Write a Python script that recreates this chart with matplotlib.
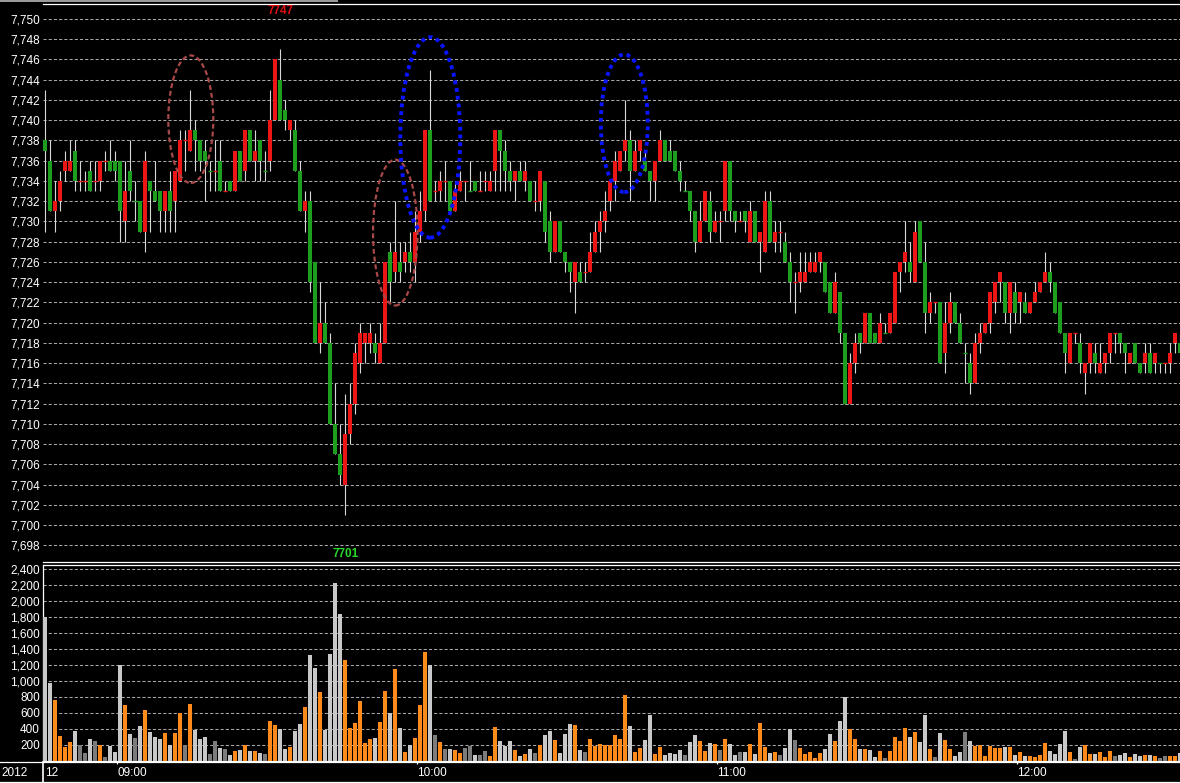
import numpy as np
import matplotlib.pyplot as plt
from matplotlib.patches import Ellipse, Rectangle
from matplotlib.lines import Line2D
from matplotlib.ticker import FuncFormatter
import matplotlib.transforms as mtransforms

plt.rcParams['font.family'] = ['Liberation Sans', 'DejaVu Sans']

# ==================================
# DATA : 1-MINUTE BARS FROM 08:45
# ==================================

opens = [
    7738, 7736, 7731, 7732, 7735, 7735, 7737, 7734, 7734, 7735,
    7734, 7734, 7736, 7736, 7736, 7736, 7730, 7735, 7732, 7732,
    7729, 7734, 7733, 7733, 7731, 7733, 7732, 7734, 7738, 7737,
    7739, 7738, 7737, 7735, 7735, 7736, 7733, 7734, 7733, 7737,
    7735, 7739, 7736, 7738, 7735, 7736, 7740, 7744, 7741, 7739,
    7739, 7735, 7731, 7732, 7726, 7718, 7720, 7718, 7710, 7707,
    7704, 7709, 7712, 7716, 7718, 7718, 7718, 7716, 7718, 7727,
    7725, 7726, 7726, 7727, 7726, 7729, 7731, 7739, 7733, 7733,
    7734, 7734, 7731, 7733, 7734, 7733, 7734, 7733, 7734, 7733,
    7735, 7739, 7737, 7735, 7734, 7735, 7734, 7734, 7732, 7732,
    7734, 7730, 7727, 7730, 7727, 7726, 7724, 7725, 7725, 7725,
    7727, 7729, 7730, 7732, 7734, 7735, 7737, 7738, 7735, 7737,
    7736, 7735, 7734, 7736, 7738, 7737, 7737, 7735, 7733, 7733,
    7731, 7728, 7730, 7732, 7729, 7730, 7731, 7736, 7731, 7730,
    7731, 7728, 7731, 7728, 7727, 7732, 7728, 7729, 7728, 7726,
    7724, 7724, 7724, 7725, 7725, 7726, 7726, 7724, 7721, 7723,
    7719, 7712, 7716, 7719, 7718, 7721, 7719, 7718, 7719, 7719,
    7720, 7725, 7726, 7726, 7724, 7730, 7726, 7721, 7722, 7722,
    7717, 7720, 7722, 7720, 7717, 7716, 7714, 7718, 7719, 7720,
    7722, 7724, 7724, 7721, 7723, 7722, 7722, 7721, 7722, 7723,
    7724, 7725, 7724, 7722, 7719, 7716, 7719, 7718, 7715, 7716,
    7717, 7715, 7716, 7717, 7719, 7719, 7718, 7716, 7718, 7716,
    7716, 7717, 7716, 7716, 7716, 7716, 7718, 7718,
]

highs = [
    7743, 7738, 7734, 7735, 7737, 7738, 7738, 7736, 7735, 7736,
    7736, 7736, 7737, 7738, 7737, 7736, 7736, 7738, 7734, 7732,
    7737, 7734, 7736, 7733, 7733, 7735, 7735, 7739, 7739, 7743,
    7740, 7738, 7738, 7736, 7738, 7738, 7734, 7734, 7737, 7737,
    7739, 7739, 7739, 7738, 7737, 7743, 7746, 7747, 7742, 7740,
    7740, 7736, 7733, 7733, 7726, 7724, 7722, 7719, 7714, 7710,
    7713, 7714, 7718, 7720, 7719, 7720, 7719, 7720, 7726, 7728,
    7732, 7728, 7728, 7729, 7731, 7733, 7739, 7745, 7734, 7735,
    7736, 7734, 7734, 7735, 7734, 7736, 7734, 7735, 7735, 7735,
    7739, 7739, 7738, 7736, 7735, 7736, 7736, 7734, 7734, 7735,
    7734, 7731, 7730, 7730, 7727, 7726, 7726, 7726, 7726, 7729,
    7730, 7731, 7733, 7734, 7737, 7737, 7742, 7739, 7738, 7738,
    7737, 7735, 7736, 7739, 7738, 7738, 7737, 7736, 7734, 7733,
    7731, 7732, 7733, 7733, 7731, 7731, 7736, 7736, 7731, 7731,
    7731, 7732, 7731, 7729, 7733, 7733, 7730, 7730, 7729, 7727,
    7725, 7727, 7727, 7727, 7727, 7727, 7726, 7724, 7725, 7723,
    7719, 7717, 7719, 7719, 7721, 7721, 7719, 7721, 7720, 7721,
    7725, 7726, 7730, 7728, 7730, 7730, 7728, 7723, 7722, 7722,
    7722, 7723, 7722, 7721, 7718, 7717, 7719, 7720, 7720, 7723,
    7724, 7725, 7724, 7724, 7724, 7723, 7723, 7722, 7724, 7724,
    7727, 7726, 7724, 7722, 7719, 7719, 7719, 7719, 7716, 7718,
    7718, 7718, 7717, 7719, 7719, 7719, 7718, 7717, 7718, 7716,
    7718, 7718, 7717, 7716, 7716, 7718, 7719, 7719,
]

lows = [
    7729, 7731, 7729, 7731, 7734, 7735, 7733, 7733, 7733, 7733,
    7733, 7733, 7735, 7735, 7734, 7728, 7728, 7732, 7730, 7729,
    7727, 7729, 7732, 7729, 7729, 7729, 7729, 7734, 7735, 7737,
    7735, 7735, 7732, 7733, 7733, 7733, 7733, 7733, 7733, 7734,
    7734, 7736, 7734, 7734, 7734, 7735, 7740, 7740, 7739, 7738,
    7735, 7731, 7729, 7723, 7718, 7717, 7718, 7710, 7707, 7704,
    7701, 7708, 7711, 7715, 7716, 7717, 7716, 7716, 7718, 7722,
    7724, 7724, 7725, 7725, 7724, 7728, 7730, 7732, 7732, 7732,
    7732, 7731, 7731, 7733, 7732, 7733, 7733, 7733, 7733, 7733,
    7733, 7733, 7733, 7733, 7732, 7734, 7733, 7732, 7731, 7731,
    7728, 7726, 7727, 7727, 7725, 7723, 7721, 7724, 7724, 7725,
    7727, 7727, 7729, 7731, 7732, 7735, 7736, 7732, 7735, 7736,
    7735, 7732, 7732, 7736, 7736, 7736, 7735, 7733, 7733, 7730,
    7727, 7728, 7730, 7728, 7729, 7728, 7730, 7730, 7729, 7730,
    7729, 7728, 7728, 7725, 7727, 7728, 7727, 7727, 7726, 7722,
    7721, 7723, 7724, 7725, 7725, 7725, 7723, 7721, 7721, 7718,
    7712, 7712, 7715, 7717, 7718, 7718, 7718, 7718, 7719, 7719,
    7720, 7723, 7725, 7724, 7724, 7726, 7719, 7720, 7721, 7716,
    7715, 7719, 7720, 7718, 7714, 7713, 7714, 7717, 7719, 7719,
    7721, 7722, 7720, 7719, 7720, 7720, 7721, 7721, 7722, 7723,
    7724, 7723, 7721, 7719, 7715, 7716, 7718, 7715, 7713, 7715,
    7715, 7715, 7715, 7716, 7717, 7717, 7715, 7716, 7716, 7715,
    7715, 7715, 7715, 7715, 7715, 7715, 7717, 7717,
]

closes = [
    7737, 7731, 7732, 7734, 7736, 7736, 7734, 7734, 7734, 7733,
    7734, 7736, 7736, 7735, 7735, 7731, 7733, 7733, 7732, 7729,
    7736, 7733, 7732, 7731, 7733, 7731, 7735, 7738, 7738, 7739,
    7738, 7736, 7736, 7735, 7735, 7733, 7733, 7733, 7737, 7734,
    7739, 7736, 7737, 7736, 7735, 7740, 7746, 7740, 7740, 7740,
    7735, 7731, 7732, 7724, 7718, 7720, 7718, 7710, 7707, 7705,
    7709, 7712, 7717, 7719, 7719, 7719, 7717, 7718, 7726, 7724,
    7727, 7725, 7727, 7726, 7729, 7731, 7739, 7732, 7733, 7734,
    7734, 7731, 7733, 7734, 7734, 7733, 7733, 7733, 7734, 7734,
    7739, 7737, 7735, 7734, 7735, 7734, 7735, 7732, 7732, 7735,
    7729, 7727, 7730, 7727, 7726, 7725, 7726, 7724, 7725, 7727,
    7729, 7730, 7731, 7734, 7736, 7737, 7738, 7735, 7737, 7738,
    7735, 7734, 7736, 7738, 7736, 7736, 7735, 7734, 7733, 7731,
    7728, 7730, 7733, 7729, 7730, 7730, 7736, 7731, 7730, 7730,
    7730, 7731, 7728, 7729, 7732, 7728, 7729, 7729, 7726, 7724,
    7724, 7725, 7725, 7726, 7726, 7727, 7723, 7721, 7724, 7719,
    7712, 7716, 7718, 7718, 7721, 7718, 7718, 7720, 7719, 7721,
    7725, 7726, 7727, 7725, 7729, 7726, 7721, 7722, 7722, 7716,
    7720, 7722, 7720, 7718, 7717, 7714, 7718, 7719, 7720, 7723,
    7724, 7725, 7721, 7724, 7721, 7723, 7721, 7722, 7723, 7724,
    7725, 7724, 7721, 7719, 7717, 7719, 7719, 7716, 7716, 7718,
    7716, 7716, 7717, 7719, 7719, 7718, 7717, 7717, 7716, 7715,
    7717, 7715, 7717, 7716, 7716, 7717, 7719, 7717,
]

volumes = [
    1800, 975, 765, 315, 178, 240, 378, 195, 102, 277,
    252, 202, 52, 190, 115, 1200, 702, 340, 290, 440,
    640, 365, 302, 277, 352, 202, 352, 602, 202, 715,
    392, 278, 302, 90, 252, 165, 152, 77, 127, 140,
    202, 127, 127, 102, 90, 502, 452, 402, 152, 177,
    377, 465, 677, 1327, 1165, 865, 390, 1340, 2228, 1840,
    1265, 415, 478, 752, 228, 278, 290, 490, 877, 602,
    1152, 415, 117, 203, 290, 702, 1365, 1202, 328, 240,
    154, 154, 142, 104, 167, 192, 79, 79, 129, 67,
    429, 254, 192, 254, 142, 67, 92, 154, 104, 204,
    329, 379, 267, 104, 342, 467, 454, 142, 117, 279,
    192, 217, 204, 204, 329, 279, 829, 442, 117, 167,
    267, 579, 92, 179, 79, 104, 92, 142, 79, 242,
    329, 254, 129, 229, 217, 142, 279, 217, 79, 117,
    117, 217, 92, 479, 179, 104, 117, 79, 167, 396,
    267, 167, 92, 117, 42, 104, 154, 342, 254, 504,
    804, 404, 279, 154, 154, 142, 54, 129, 42, 129,
    304, 254, 417, 304, 367, 242, 579, 154, 54, 354,
    267, 154, 67, 117, 367, 254, 192, 204, 67, 192,
    167, 167, 179, 179, 79, 117, 67, 67, 54, 79,
    229, 129, 92, 217, 379, 117, 29, 179, 204, 92,
    92, 117, 54, 129, 67, 79, 104, 54, 92, 67,
    79, 79, 67, 42, 67, 67, 67, 104,
]

first_bar = "08:45"
time_labels = ["09:00", "10:00", "11:00", "12:00"]
time_bars = [15, 75, 135, 195]
date_label = "12"
year_label = "2012"

price_ticks = list(range(7698, 7751, 2))
volume_ticks = list(range(200, 2401, 200))

# hand-drawn marks: (centre bar, centre price, width in bars, height in points)
red_marks = [(29.1, 7740.1, 9.0, 12.6), (70.0, 7728.9, 8.9, 14.4)]
blue_marks = [(77.0, 7738.3, 12.0, 19.8), (115.8, 7739.7, 9.4, 13.6)]

# ==================================
# COLOURS
# ==================================

UP = '#ec1616'
DOWN = '#1e9e1e'
WICK = '#d8d8d8'
VOL_UP = '#ff8a1c'
VOL_DOWN = '#c8c8c8'
VOL_FLAT = '#7c7c7c'
GRID = '#a8a8a8'

o = np.array(opens)
h = np.array(highs)
l = np.array(lows)
c = np.array(closes)
v = np.array(volumes)
x = np.arange(len(o))

up = c > o
down = c < o
flat = c == o

# ==================================
# FIGURE LAYOUT (pixel based)
# ==================================

W, H = 1180, 783


def fx(px):
    return px / W


def fy(py):
    return 1 - py / H


fig = plt.figure(figsize=(W / 100, H / 100), dpi=100, facecolor='black')

ax_p = fig.add_axes([fx(43.3), fy(562), 1 - fx(43.3), (562 - 4) / H])
ax_v = fig.add_axes([fx(43.3), fy(761), 1 - fx(43.3), (761 - 564.5) / H], sharex=ax_p)

for ax in (ax_p, ax_v):
    ax.set_facecolor('black')
    for side in ax.spines:
        ax.spines[side].set_color('white')
        ax.spines[side].set_linewidth(0.9)
    ax.spines['right'].set_visible(False)
    ax.tick_params(axis='y', colors='white', labelsize=8.5, length=0, pad=2.4)

ax_p.spines['left'].set_visible(False)

# ==================================
# PRICE PANEL
# ==================================

ax_p.vlines(x, l, h, color=WICK, linewidth=0.8, zorder=2)

ax_p.bar(x[up], (c - o)[up], bottom=o[up], width=0.74, color=UP,
         linewidth=0, zorder=3)
ax_p.bar(x[down], (c - o)[down], bottom=o[down], width=0.74, color=DOWN,
         linewidth=0, zorder=3)

prev_close = np.concatenate([[c[0]], c[:-1]])
doji_col = np.where(c < prev_close, DOWN, UP)
ax_p.hlines(c[flat], x[flat] - 0.37, x[flat] + 0.37, colors=doji_col[flat],
            linewidth=1.0, zorder=3)

ax_p.set_ylim(7696.37, 7751.48)
ax_p.set_yticks(price_ticks)
ax_p.yaxis.set_major_formatter(FuncFormatter(lambda val, pos: f"{int(val):,}"))
ax_p.grid(axis='y', color=GRID, linestyle=(0, (3, 2)), linewidth=0.75)
ax_p.set_axisbelow(True)
ax_p.tick_params(axis='x', bottom=False, labelbottom=False)

# high / low labels
blend = mtransforms.blended_transform_factory(ax_p.transData, ax_p.transAxes)
i_hi = int(np.argmax(h))
i_lo = int(np.argmin(l))
ax_p.text(i_hi, 0.987, f"{h[i_hi]}", transform=blend, color='#e01010',
          fontsize=8.5, fontweight='bold', ha='center', va='center')
ax_p.text(i_lo, 0.0143, f"{l[i_lo]}", transform=blend, color='#28d828',
          fontsize=8.5, fontweight='bold', ha='center', va='center')

# marked areas
for cx, cy, w, hh in red_marks:
    ax_p.add_patch(Ellipse((cx, cy), w, hh, fill=False, edgecolor='#a84848',
                           linewidth=1.6, linestyle=(0, (2.2, 1.3)), zorder=5))
for cx, cy, w, hh in blue_marks:
    ax_p.add_patch(Ellipse((cx, cy), w, hh, fill=False, edgecolor='#0a14ff',
                           linewidth=2.8, linestyle=(0, (1, 1)), zorder=5))

# ==================================
# VOLUME PANEL
# ==================================

vol_colors = np.where(up, VOL_UP, np.where(down, VOL_DOWN, VOL_FLAT))
ax_v.bar(x, v, width=0.78, color=vol_colors, linewidth=0, zorder=3)

ax_v.set_ylim(0, 2456)
ax_v.set_yticks(volume_ticks)
ax_v.yaxis.set_major_formatter(FuncFormatter(lambda val, pos: f"{int(val):,}"))
ax_v.grid(axis='y', color=GRID, linestyle=(0, (3, 2)), linewidth=0.75)
ax_v.set_axisbelow(True)

ax_v.set_xlim(-0.4, 226.94)
ax_v.set_xticks([b - 0.66 for b in time_bars])
ax_v.set_xticklabels(time_labels)
ax_v.tick_params(axis='x', colors='white', labelsize=8.5, length=2.5,
                 width=0.9, direction='out', pad=1.5)
for lab in ax_v.get_xticklabels():
    lab.set_ha('left')

# ==================================
# FRAME DETAILS
# ==================================

fig.add_artist(Line2D([0, 1], [fy(761.5), fy(761.5)], color='white', linewidth=0.9))
fig.add_artist(Line2D([0, 1], [fy(781.8), fy(781.8)], color='white', linewidth=0.9))
fig.add_artist(Line2D([fx(42.8), fx(42.8)], [fy(761.5), fy(781.8)], color='white',
                      linewidth=1.2))
fig.add_artist(Rectangle((0, fy(2)), fx(338), 2 / H, transform=fig.transFigure,
                         facecolor='#9a9a9a', edgecolor='none'))

fig.text(fx(1), fy(772.5), year_label, color='white', fontsize=8.5,
         ha='left', va='center')
fig.text(fx(45.5), fy(772.5), date_label, color='white', fontsize=8.5,
         ha='left', va='center')

fig.savefig('out.png', dpi=100, facecolor='black')
